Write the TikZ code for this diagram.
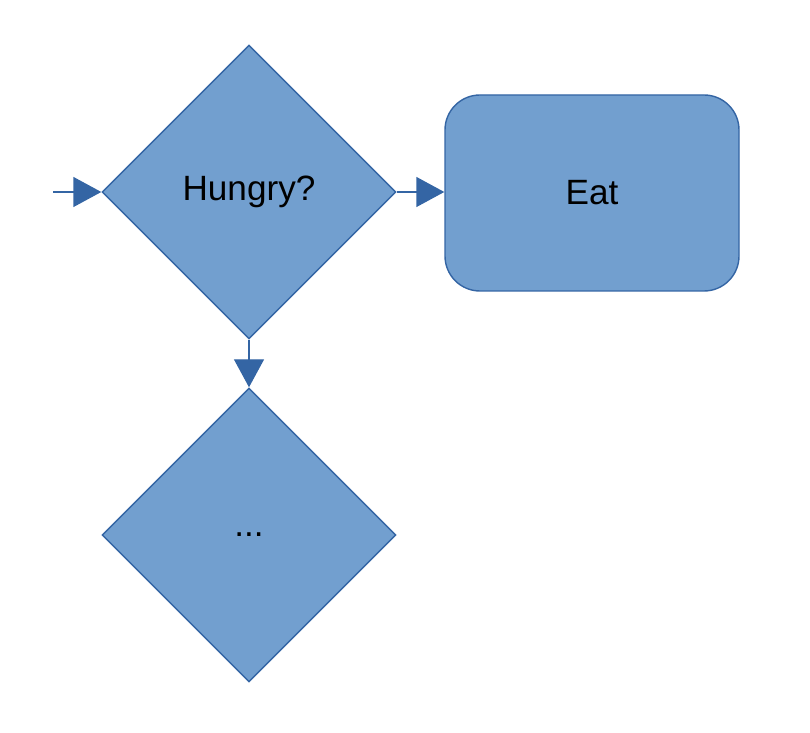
\documentclass[tikz,border=0pt]{standalone}
\usepackage{fontspec}
\setmainfont{Liberation Sans}
\usetikzlibrary{shapes.geometric,arrows.meta}
\definecolor{boxfill}{HTML}{729FCF}
\definecolor{boxline}{HTML}{3465A4}
\tikzset{
  decision/.style={diamond,draw=boxline,fill=boxfill,line width=0.8pt,
    minimum width=5.88cm,minimum height=5.88cm,inner sep=0pt,
    font=\fontsize{20}{24}\selectfont},
  action/.style={rectangle,rounded corners=0.7cm,draw=boxline,fill=boxfill,
    line width=0.8pt,minimum width=5.88cm,minimum height=3.92cm,
    font=\fontsize{20}{24}\selectfont},
  flow/.style={draw=boxline,line width=0.8pt,
    -{Triangle[length=0.56cm,width=0.6cm]},color=boxline}
}
\begin{document}
\begin{tikzpicture}
\useasboundingbox (0,0) rectangle (16.2,14.64);
			\coordinate (start) at (1.06,10.8);
			\node[decision] (hungry) at (4.98,10.8) {Hungry?};
			\node[action] (eat) at (11.84,10.78) {Eat};
			\node[decision] (next) at (4.98,3.94) {...};
			%%%%%%%%%%%%%%%
			\draw[flow] (start) -- (hungry.west);
			\draw[flow] (hungry.east) -- (eat.west |- hungry.east);
			\draw[flow] (hungry.south) -- (next.north);
\end{tikzpicture}
\end{document}
